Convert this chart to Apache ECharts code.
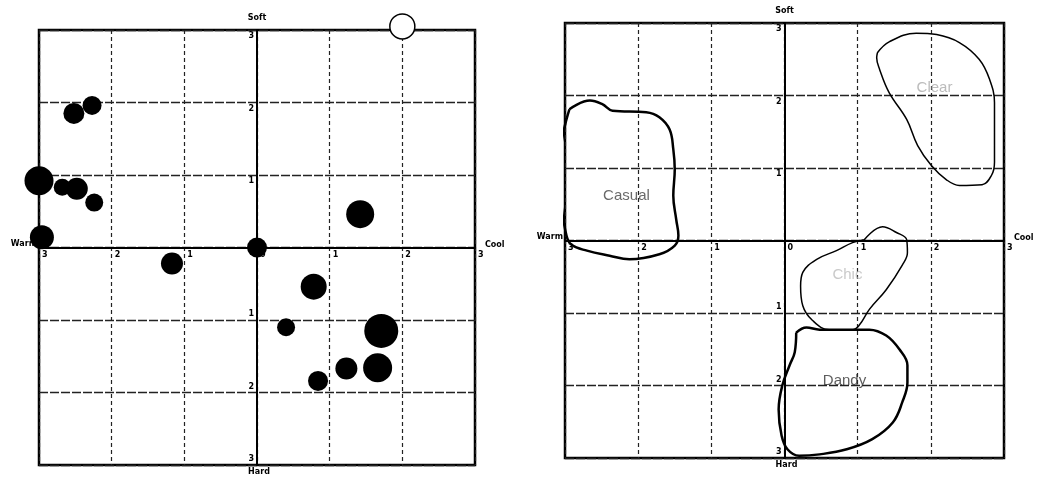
<!DOCTYPE html>
<html>
<head>
<meta charset="utf-8">
<script src="https://cdn.jsdelivr.net/npm/echarts@6/dist/echarts.min.js"></script>
<style>
  html, body { margin: 0; padding: 0; background: #fff; }
  #main { width: 1037px; height: 477px; }
</style>
</head>
<body>
<div id="main"></div>
<script>
// tick values for both maps (warm/cool and soft/hard)
var ticks = [-3, -2, -1, 0, 1, 2, 3];

// left map: filled bubbles  [warm-cool, soft-hard], weight
var pointX = [-2.52, -2.27, -3.0, -2.68, -2.48, -2.24, -2.96, 1.42, 0.0, -1.17, 0.78, 0.40, 1.71, 1.66, 1.23, 0.84];
var pointY = [1.85, 1.96, 0.92, 0.83, 0.81, 0.62, 0.14, 0.46, 0.0, -0.22, -0.54, -1.10, -1.15, -1.66, -1.67, -1.84];
var pointWeight = [10.5, 9.5, 14.5, 8.5, 11, 9, 12, 14, 10, 11, 13, 9, 17, 14.5, 11, 10];

// left map: hollow bubble
var hollowX = [2.0];
var hollowY = [3.05];
var hollowWeight = [12.5];

// right map: image regions
var regionNames = ['Casual', 'Clear', 'Chic', 'Dandy'];
var regionLabelX = [-2.16, 2.05, 0.86, 0.82];
var regionLabelY = [0.61, 2.10, -0.48, -1.93];

var casualOutline = [
  [-2.94, 1.81], [-2.66, 1.93], [-2.49, 1.88], [-2.35, 1.79], [-1.89, 1.77], [-1.71, 1.70],
  [-1.57, 1.53], [-1.52, 1.26], [-1.50, 0.98], [-1.52, 0.62], [-1.48, 0.29], [-1.45, 0.07],
  [-1.50, -0.07], [-1.71, -0.19], [-2.12, -0.26], [-2.39, -0.21], [-2.70, -0.14], [-2.91, -0.06],
  [-2.98, 0.07], [-3.05, 0.52], [-3.07, 1.08], [-3.03, 1.45], [-2.98, 1.67], [-2.94, 1.81]
];
var clearOutline = [
  [1.27, 2.59], [1.43, 2.74], [1.80, 2.86], [2.08, 2.84], [2.39, 2.73], [2.66, 2.50],
  [2.80, 2.23], [2.87, 1.90], [2.87, 1.45], [2.87, 1.08], [2.83, 0.90], [2.70, 0.77],
  [2.39, 0.76], [2.21, 0.84], [2.01, 1.03], [1.82, 1.31], [1.67, 1.67], [1.43, 2.04],
  [1.30, 2.36], [1.26, 2.52], [1.27, 2.59]
];
var chicOutline = [
  [1.09, 0.01], [1.34, 0.19], [1.53, 0.11], [1.67, 0.01], [1.68, -0.17], [1.61, -0.34],
  [1.39, -0.68], [1.16, -0.95], [1.02, -1.17], [0.93, -1.23], [0.61, -1.23], [0.38, -1.10],
  [0.25, -0.90], [0.22, -0.63], [0.25, -0.44], [0.44, -0.26], [0.71, -0.14], [0.93, -0.03],
  [1.09, 0.01]
];
var dandyOutline = [
  [0.16, -1.27], [0.30, -1.20], [0.48, -1.23], [0.93, -1.23], [1.16, -1.23], [1.39, -1.31],
  [1.57, -1.50], [1.68, -1.72], [1.68, -1.96], [1.61, -2.23], [1.48, -2.51], [1.20, -2.74],
  [0.85, -2.88], [0.48, -2.95], [0.20, -2.97], [0.04, -2.88], [-0.04, -2.69], [-0.08, -2.33],
  [-0.03, -2.00], [0.07, -1.72], [0.14, -1.54], [0.16, -1.27]
];
var regionOutlines = [casualOutline, clearOutline, chicOutline, dandyOutline];
var regionLabelColors = ['#444', '#aaa', '#bbb', '#333'];
var regionWidths = [2.5, 1.5, 1.5, 2.5];

// layout
var grids = [
  { left: 39, top: 30, width: 436, height: 435 },
  { left: 565, top: 23, width: 439, height: 435 }
];

var labelFont = { fontFamily: 'DejaVu Sans', fontWeight: 'bold', fontSize: 8, color: '#000' };

// axes sit in the middle of each grid (offset moves line and labels together)
function makeXAxis(i) {
  return {
    type: 'value', gridIndex: i, min: ticks[0], max: ticks[ticks.length - 1], interval: 1,
    position: 'bottom', offset: -grids[i].height / 2,
    axisLine: { onZero: false, lineStyle: { color: '#000', width: 2 } },
    axisTick: { show: false },
    axisLabel: Object.assign({
      align: 'left', margin: 3, padding: [0, 0, 0, 3],
      formatter: function (v) { return String(Math.abs(v)); }
    }, labelFont),
    splitLine: { show: true, lineStyle: { color: '#222', width: 1.2, type: [4, 3] } }
  };
}
function makeYAxis(i) {
  return {
    type: 'value', gridIndex: i, min: ticks[0], max: ticks[ticks.length - 1], interval: 1,
    position: 'left', offset: -grids[i].width / 2,
    axisLine: { onZero: false, lineStyle: { color: '#000', width: 2 } },
    axisTick: { show: false },
    axisLabel: Object.assign({
      margin: 3,
      // labels sit on the side of the grid line facing the centre
      formatter: function (v) {
        if (v === 0) return '';
        return (v > 0 ? '{up|' : '{dn|') + Math.abs(v) + '}';
      },
      rich: {
        up: Object.assign({ padding: [12, 0, 0, 0] }, labelFont),
        dn: Object.assign({ padding: [0, 0, 12, 0] }, labelFont)
      }
    }, labelFont),
    splitLine: { show: true, lineStyle: { color: '#222', width: 1.3, type: [9, 2] } }
  };
}

function zip(xs, ys, ws) {
  return xs.map(function (x, k) { return ws ? [x, ys[k], ws[k]] : [x, ys[k]]; });
}

var series = [
  {
    type: 'scatter', xAxisIndex: 0, yAxisIndex: 0,
    data: zip(pointX, pointY, pointWeight),
    symbolSize: function (d) { return d[2] * 2; },
    itemStyle: { color: '#000', opacity: 1 },
    z: 5
  },
  {
    type: 'scatter', xAxisIndex: 0, yAxisIndex: 0,
    data: zip(hollowX, hollowY, hollowWeight),
    symbolSize: function (d) { return d[2] * 2; },
    itemStyle: { color: '#fff', borderColor: '#000', borderWidth: 1.5, opacity: 1 },
    clip: false,
    z: 5
  },
  {
    type: 'scatter', xAxisIndex: 1, yAxisIndex: 1,
    data: regionNames.map(function (n, k) {
      return { name: n, value: [regionLabelX[k], regionLabelY[k]], label: { color: regionLabelColors[k] } };
    }),
    symbolSize: 0,
    label: {
      show: true, position: 'inside', formatter: '{b}',
      fontFamily: 'Liberation Sans', fontSize: 15
    },
    z: 6
  }
];

regionOutlines.forEach(function (outline, k) {
  series.push({
    type: 'line', xAxisIndex: 1, yAxisIndex: 1,
    data: outline, smooth: 0.4, symbol: 'none', clip: false,
    lineStyle: { color: '#000', width: regionWidths[k] },
    z: 4
  });
});

var nameStyle = { fontFamily: 'DejaVu Sans', fontWeight: 'bold', fontSize: 8, fill: '#000' };
function axisNames(g) {
  var cx = g.left + g.width / 2, cy = g.top + g.height / 2;
  return [
    { type: 'text', x: cx, y: g.top - 12, style: Object.assign({ text: 'Soft', align: 'center', verticalAlign: 'middle' }, nameStyle) },
    { type: 'text', x: cx + 2, y: g.top + g.height + 7, style: Object.assign({ text: 'Hard', align: 'center', verticalAlign: 'middle' }, nameStyle) },
    { type: 'text', x: g.left - 2, y: cy - 4, style: Object.assign({ text: 'Warm', align: 'right', verticalAlign: 'middle' }, nameStyle) },
    { type: 'text', x: g.left + g.width + 10, y: cy - 3, style: Object.assign({ text: 'Cool', align: 'left', verticalAlign: 'middle' }, nameStyle) }
  ];
}

var chart = echarts.init(document.getElementById('main'), null, { renderer: 'canvas' });
chart.setOption({
  animation: false,
  backgroundColor: '#fff',
  grid: grids.map(function (g) {
    return Object.assign({ show: true, borderColor: '#000', borderWidth: 2.5, containLabel: false }, g);
  }),
  xAxis: [makeXAxis(0), makeXAxis(1)],
  yAxis: [makeYAxis(0), makeYAxis(1)],
  graphic: axisNames(grids[0]).concat(axisNames(grids[1])),
  series: series
});
</script>
</body>
</html>
